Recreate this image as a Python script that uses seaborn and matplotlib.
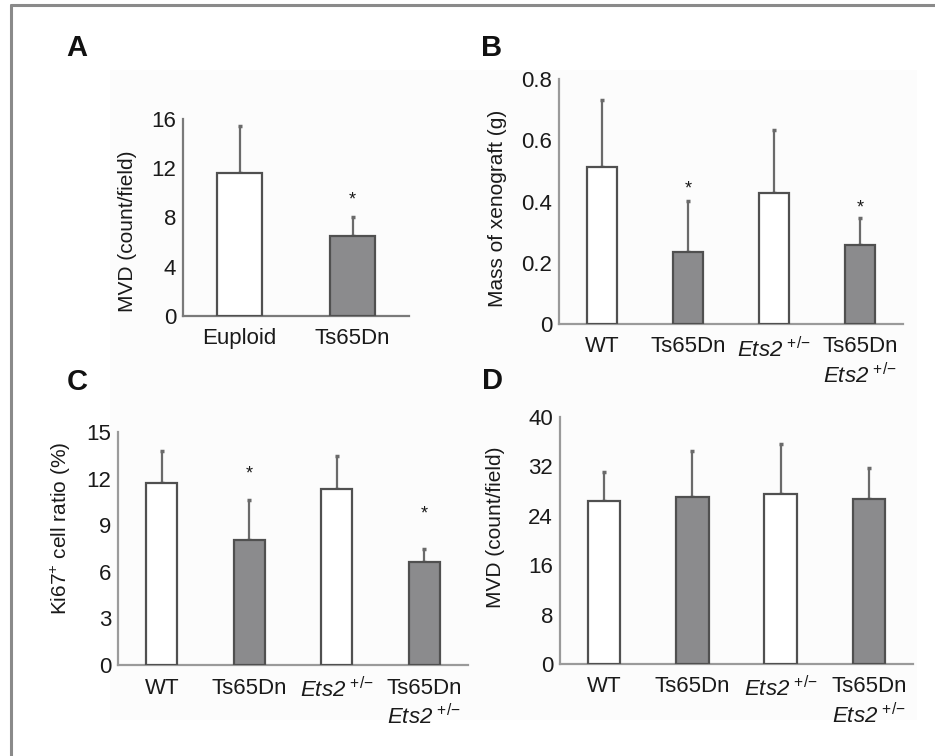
import matplotlib
matplotlib.use("Agg")
import matplotlib.pyplot as plt
import seaborn as sns
import pandas as pd
from matplotlib.patches import Rectangle
from matplotlib.lines import Line2D

# ---------------- data ----------------
a_categories = ["Euploid", "Ts65Dn"]
a_means = [11.6, 6.5]
a_sd = [3.8, 1.55]
a_star_y = [None, 9.4]
a_yticks = [0, 4, 8, 12, 16]

group_categories = ["WT", "Ts65Dn", "Ets2+/-", "Ts65Dn Ets2+/-"]
group_ticklabels = ["WT", "Ts65Dn", r"$\mathsf{Ets2}^{\,+\!/\!-}$",
                    "Ts65Dn\n" + r"$\mathsf{Ets2}^{\,+\!/\!-}$"]

b_means = [0.512, 0.236, 0.427, 0.258]
b_sd = [0.219, 0.167, 0.206, 0.089]
b_star_y = [None, 0.44, None, 0.38]
b_yticks = [0, 0.2, 0.4, 0.6, 0.8]
b_yticklabels = ["0", "0.2", "0.4", "0.6", "0.8"]

c_means = [11.7, 8.05, 11.35, 6.6]
c_sd = [2.1, 2.6, 2.1, 0.9]
c_star_y = [None, 12.3, None, 9.7]
c_yticks = [0, 3, 6, 9, 12, 15]

d_means = [26.4, 27.0, 27.6, 26.8]
d_sd = [4.7, 7.5, 8.0, 4.9]
d_star_y = [None, None, None, None]
d_yticks = [0, 8, 16, 24, 32, 40]

# ---------------- style ----------------
sns.set_style("white")
plt.rcParams["font.family"] = ["Liberation Sans", "DejaVu Sans"]
plt.rcParams["mathtext.fontset"] = "custom"
plt.rcParams["mathtext.rm"] = "Liberation Sans"
plt.rcParams["mathtext.it"] = "Liberation Sans:italic"
plt.rcParams["mathtext.sf"] = "Liberation Sans:italic"
plt.rcParams["mathtext.bf"] = "Liberation Sans:bold"

W, H = 935, 756
fig = plt.figure(figsize=(W / 100, H / 100), dpi=100)
fig.patch.set_facecolor("white")

# light panel background and frame lines
fig.patches.append(Rectangle((110 / W, 1 - 720 / H), (917 - 110) / W, (720 - 70) / H,
                             transform=fig.transFigure, facecolor="#fcfcfc",
                             edgecolor="none", zorder=-10))
fig.lines.append(Line2D([11 / W, 1], [1 - 5 / H, 1 - 5 / H], transform=fig.transFigure,
                        color="#8a8a8a", lw=2.2))
fig.lines.append(Line2D([11 / W, 11 / W], [0, 1 - 5 / H], transform=fig.transFigure,
                        color="#8a8a8a", lw=2.2))

WHITE = "#ffffff"
GRAY = "#8b8b8d"
EDGE = "#505050"
ERR = "#6a6a6a"
SPINE = "#9a9a9a"
TXT = "#1a1a1a"
FS = 16


def px_axes(l, r, b, t):
    return fig.add_axes([l / W, 1 - b / H, (r - l) / W, (b - t) / H])


def draw_panel(ax, cats, labels, means, sds, stars, yticks, yticklabels, ylim,
               width, ylabel, label_xy, letter, letter_xy, spine_color=SPINE):
    n = len(cats)
    colors = [WHITE if i % 2 == 0 else GRAY for i in range(n)]
    df = pd.DataFrame({"cat": cats, "val": means})
    sns.barplot(data=df, x="cat", y="val", hue="cat", palette=colors, legend=False,
                width=width, edgecolor=EDGE, linewidth=1.6, ax=ax, zorder=3)
    for i in range(n):
        ax.errorbar(i, means[i], yerr=[[0], [sds[i]]], fmt="none", ecolor=ERR,
                    elinewidth=1.6, capsize=1.5, capthick=2.5, zorder=2)
        if stars[i] is not None:
            ax.text(i, stars[i], "*", ha="center", va="center", fontsize=13, color=TXT)
    ax.set_facecolor("none")
    ax.set_xlim(-0.5, n - 0.5)
    ax.set_ylim(*ylim)
    ax.set_yticks(yticks)
    ax.set_yticklabels(yticklabels)
    ax.set_xticks(range(n))
    ax.set_xticklabels(labels, fontsize=FS, color=TXT, linespacing=1.25, va="top")
    ax.set_xticks([k + 0.5 for k in range(n)], minor=True)
    ax.tick_params(axis="x", which="major", length=0, pad=9)
    ax.tick_params(axis="x", which="minor", length=3, direction="inout", color=SPINE)
    ax.tick_params(axis="y", which="major", length=3, direction="in", color=SPINE,
                   labelsize=FS, labelcolor=TXT, pad=5)
    ax.set_xlabel("")
    ax.set_ylabel(ylabel, fontsize=15, color=TXT)
    ax.yaxis.set_label_coords(*label_xy)
    for s in ["top", "right"]:
        ax.spines[s].set_visible(False)
    for s in ["left", "bottom"]:
        ax.spines[s].set_color(spine_color)
        ax.spines[s].set_linewidth(1.6)
    fig.text(letter_xy[0] / W, 1 - letter_xy[1] / H, letter, fontsize=21,
             fontweight="bold", color="#111111", ha="left", va="center")


axA = px_axes(183, 409, 316, 119)
draw_panel(axA, a_categories, a_categories, a_means, a_sd, a_star_y, a_yticks,
           [str(v) for v in a_yticks], (0, 16), 0.4, "MVD (count/field)",
           (-0.205, 0.43), "A", (66, 48), spine_color="#7a7a7a")

axB = px_axes(559, 903, 324, 79)
draw_panel(axB, group_categories, group_ticklabels, b_means, b_sd, b_star_y, b_yticks,
           b_yticklabels, (0, 0.8), 0.36, "Mass of xenograft (g)",
           (-0.151, 0.473), "B", (481, 48))

axC = px_axes(118, 468, 665, 432)
draw_panel(axC, group_categories, group_ticklabels, c_means, c_sd, c_star_y, c_yticks,
           [str(v) for v in c_yticks], (0, 15), 0.355, "Ki67$^{+}$ cell ratio (%)",
           (-0.129, 0.585), "C", (67, 382))

axD = px_axes(560, 913, 664, 417)
draw_panel(axD, group_categories, group_ticklabels, d_means, d_sd, d_star_y, d_yticks,
           [str(v) for v in d_yticks], (0, 40), 0.37, "MVD (count/field)",
           (-0.156, 0.555), "D", (482, 381))

fig.savefig("out.png", dpi=100)
